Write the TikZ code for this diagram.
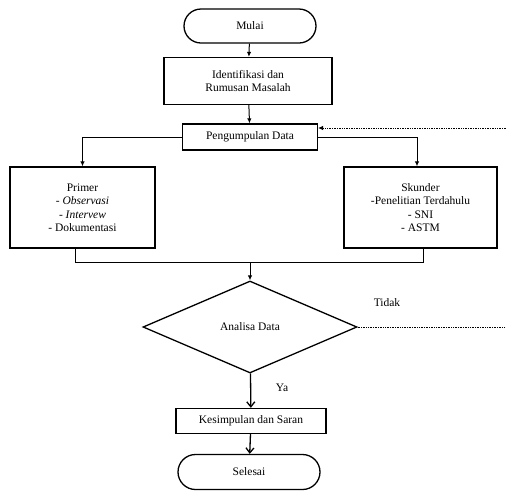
\documentclass[tikz,border=0pt]{standalone}
\usepackage{fontspec}
\setmainfont{Liberation Serif}
\usetikzlibrary{arrows.meta, positioning, shapes.geometric, shapes.misc}

\begin{document}
\begin{tikzpicture} [%
    x = 1pt,
    y = -1pt,
    >= { Latex[length=5pt, width=4.5pt] },
    line width = 1pt,
    font = \fontsize{11.5}{13.5}\selectfont,
    proses/.style = {%
      rectangle,
      draw,
      line width = 1.3pt,
      align = center,
      inner sep = 2pt },
    terminal/.style = {%
      rounded rectangle,
      draw,
      line width = 1.3pt,
      inner sep = 2pt },
    keputusan/.style = {%
      diamond,
      draw,
      line width = 1.3pt,
      aspect = 2.33,
      inner sep = 0pt },
    buka/.style = {%
      -{Straight Barb[length=5pt, width=8pt]},
      line width = 1.3pt }
  ]

  \useasboundingbox (0,0) rectangle (506,499);

  \node[terminal, minimum width=136pt, minimum height=34pt] (mulai) at (250,26) {Mulai};
  \node[proses, minimum width=168pt, minimum height=47pt] (ident) at (248,81)
    {Identifikasi dan\\Rumusan Masalah};
  \node[proses, minimum width=135pt, minimum height=26pt] (kumpul) at (250,137) {Pengumpulan Data};
  \node[proses, minimum width=145pt, minimum height=81pt] (primer) at (82.5,207.5)
    {Primer\\- \textit{Observasi}\\- \textit{Intervew}\\- Dokumentasi};
  \node[proses, minimum width=153pt, minimum height=81pt] (skunder) at (420.5,207.5)
    {Skunder\\-Penelitian Terdahulu\\- SNI\\- ASTM};
  \node[keputusan, minimum width=214pt, minimum height=92pt] (analisa) at (250,327) {Analisa Data};
  \node[proses, minimum width=150pt, minimum height=25pt] (simpul) at (251,421) {Kesimpulan dan Saran};
  \node[terminal, minimum width=146pt, minimum height=35pt] (selesai) at (249,472) {Selesai};

  \node (tidak) at (387,303) {Tidak};
  \node (ya) at (282,388) {Ya};

  \coordinate (gabung) at (250,262);
  \coordinate (balik1) at (506,327);
  \coordinate (balik2) at (506,128);

  \draw[->] (mulai) -- (ident);
  \draw[->] (ident) -- (kumpul);
  \draw[->] (kumpul.west) -| (primer.north);
  \draw[->] (kumpul.east) -| ([xshift=-3.5pt]skunder.north);
  \draw ([xshift=-7.5pt]primer.south) |- (gabung);
  \draw ([xshift=2.5pt]skunder.south) |- (gabung);
  \draw[->] (gabung) -- (analisa.north);
  \draw[buka] (analisa) -- (simpul);
  \draw[buka] (simpul) -- (selesai);

  \draw[densely dotted, line width=0.7pt] (analisa.east) -- (balik1);
  \draw[->, densely dotted, line width=0.7pt] (balik2) -- (balik2 -| kumpul.east);

\end{tikzpicture}
\end{document}
